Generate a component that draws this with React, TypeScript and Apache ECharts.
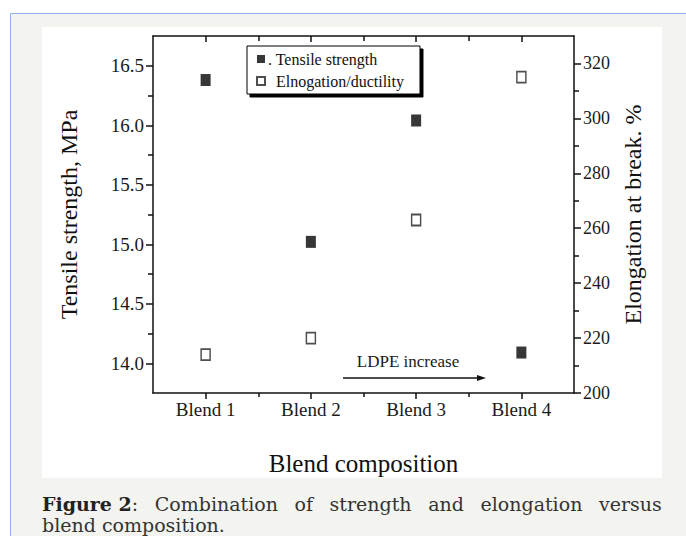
import React, { useEffect, useRef } from "react";
import * as echarts from "echarts";

const categories = ["Blend 1", "Blend 2", "Blend 3", "Blend 4"];
const tensileStrength = [16.38, 15.02, 16.04, 14.09];
const elongation = [214, 220, 263, 315];
const seriesNames = [". Tensile strength", "  Elnogation/ductility"];
const leftMajorTicks = [14.0, 14.5, 15.0, 15.5, 16.0, 16.5];
const leftMinorTicks = [14.25, 14.75, 15.25, 15.75, 16.25];
const rightMajorTicks = [200, 220, 240, 260, 280, 300, 320];
const rightMinorTicks = [210, 230, 250, 270, 290, 310];
const xMajorTicks = [1, 2, 3, 4];
const xMinorTicks = [1.5, 2.5, 3.5];
const captionBold = "Figure 2";
const captionLine1Words = [":", "Combination", "of", "strength", "and", "elongation", "versus"];
const captionLine2 = "blend composition.";
const annotation = "LDPE increase";

const SERIF = "'Liberation Serif', 'Times New Roman', serif";
const CAPTION_FONT = "'DejaVu Serif', serif";

export default function App() {
  const ref = useRef<HTMLDivElement>(null);
  useEffect(() => {
    document.body.style.margin = "0";
    const chart = echarts.init(ref.current!, null, { renderer: "svg" });
    const axisLineStyle = { color: "#111", width: 1.5 };
    const xRange = { min: 0.5, max: 4.5 };
    const leftRange = { min: 13.75, max: 16.75 };
    const rightRange = { min: 200, max: 330 };
    const minorAxis = (range: any, position: string, values: number[], inside: boolean, len: number) => ({
      type: "value",
      ...range,
      position,
      axisLine: { show: false },
      axisTick: { show: true, inside, length: len, customValues: values, lineStyle: axisLineStyle },
      axisLabel: { show: false },
      splitLine: { show: false },
    });
    const line1 =
      "{b|" + captionBold + "}" + captionLine1Words[0] + captionLine1Words.slice(1).map((w) => "{s| }" + w).join("");
    const option: any = {
      animation: false,
      backgroundColor: "#ffffff",
      grid: { left: 153, top: 36, right: 112, bottom: 143 },
      legend: {
        orient: "vertical",
        left: 247,
        top: 46,
        itemWidth: 8,
        itemHeight: 8,
        itemGap: 6,
        padding: [5, 16, 5, 9],
        backgroundColor: "#fff",
        borderColor: "#000",
        borderWidth: 1,
        shadowColor: "#000",
        shadowBlur: 0,
        shadowOffsetX: 3,
        shadowOffsetY: 3,
        icon: "rect",
        textStyle: { fontFamily: SERIF, fontSize: 16, color: "#111", padding: [0, 0, 0, -2] },
        data: seriesNames,
      },
      xAxis: [
        {
          type: "value",
          ...xRange,
          position: "bottom",
          name: "Blend composition",
          nameLocation: "middle",
          nameGap: 58,
          nameTextStyle: { fontFamily: SERIF, fontSize: 25, color: "#111" },
          axisLine: { show: true, lineStyle: axisLineStyle },
          axisTick: { show: true, inside: false, length: 6, customValues: xMajorTicks, lineStyle: axisLineStyle },
          axisLabel: {
            fontFamily: SERIF,
            fontSize: 19,
            color: "#1a1a1a",
            margin: 7,
            customValues: xMajorTicks,
            formatter: (v: number) => categories[Math.round(v) - 1] ?? "",
          },
          splitLine: { show: false },
        },
        {
          type: "value",
          ...xRange,
          position: "top",
          axisLine: { show: true, lineStyle: axisLineStyle },
          axisTick: { show: true, inside: true, length: 6, customValues: xMajorTicks, lineStyle: axisLineStyle },
          axisLabel: { show: false },
          splitLine: { show: false },
        },
        minorAxis(xRange, "bottom", xMinorTicks, false, 4),
        minorAxis(xRange, "top", xMinorTicks, true, 5),
      ],
      yAxis: [
        {
          type: "value",
          ...leftRange,
          position: "left",
          name: "Tensile strength, MPa",
          nameLocation: "middle",
          nameRotate: 90,
          nameGap: 72,
          nameTextStyle: { fontFamily: SERIF, fontSize: 24, color: "#111" },
          axisLine: { show: true, lineStyle: axisLineStyle },
          axisTick: { show: true, inside: false, length: 7, customValues: leftMajorTicks, lineStyle: axisLineStyle },
          axisLabel: {
            fontFamily: SERIF,
            fontSize: 19,
            color: "#1a1a1a",
            margin: 9,
            customValues: leftMajorTicks,
            formatter: (v: number) => v.toFixed(1),
          },
          splitLine: { show: false },
        },
        {
          type: "value",
          ...rightRange,
          position: "right",
          name: "Elongation at break. %",
          nameLocation: "middle",
          nameRotate: 90,
          nameGap: 44,
          nameTextStyle: { fontFamily: SERIF, fontSize: 24, color: "#111" },
          axisLine: { show: true, lineStyle: axisLineStyle },
          axisTick: { show: true, inside: false, length: 7, customValues: rightMajorTicks, lineStyle: axisLineStyle },
          axisLabel: {
            fontFamily: SERIF,
            fontSize: 18,
            color: "#1a1a1a",
            margin: 9,
            customValues: rightMajorTicks,
            formatter: (v: number) => String(v),
          },
          splitLine: { show: false },
        },
        minorAxis(leftRange, "left", leftMinorTicks, false, 5),
        minorAxis(rightRange, "right", rightMinorTicks, false, 5),
      ],
      series: [
        {
          name: seriesNames[0],
          type: "scatter",
          xAxisIndex: 0,
          yAxisIndex: 0,
          symbol: "rect",
          symbolSize: [10, 12],
          itemStyle: { color: "#050505" },
          data: tensileStrength.map((v, i) => [i + 1, v]),
        },
        {
          name: seriesNames[1],
          type: "scatter",
          xAxisIndex: 0,
          yAxisIndex: 1,
          symbol: "rect",
          symbolSize: [9, 11],
          itemStyle: { color: "#ffffff", borderColor: "#222", borderWidth: 1.6 },
          data: elongation.map((v, i) => [i + 1, v]),
        },
      ],
      graphic: [
        {
          type: "rect",
          z: -100,
          silent: true,
          shape: { x: 10.5, y: 13.5, width: 720, height: 600 },
          style: { fill: "#f3f3ef", stroke: "#8fb2e6", lineWidth: 1 },
        },
        {
          type: "rect",
          z: -90,
          silent: true,
          shape: { x: 42, y: 27, width: 620, height: 451 },
          style: { fill: "#ffffff" },
        },
        {
          type: "text",
          z: 10,
          x: 408,
          y: 361,
          style: {
            text: annotation,
            fontFamily: SERIF,
            fontSize: 17,
            fill: "#1a1a1a",
            align: "center",
            verticalAlign: "middle",
          },
        },
        {
          type: "line",
          z: 10,
          shape: { x1: 343, y1: 378, x2: 482, y2: 378 },
          style: { stroke: "#111", lineWidth: 1.5 },
        },
        {
          type: "polygon",
          z: 10,
          shape: { points: [[477, 375], [486, 378], [477, 381]] },
          style: { fill: "#111" },
        },
        {
          type: "text",
          z: 10,
          x: 42,
          y: 504,
          style: {
            text: line1,
            fontFamily: CAPTION_FONT,
            fontSize: 19,
            fill: "#333",
            verticalAlign: "middle",
            rich: {
              b: { fontFamily: CAPTION_FONT, fontSize: 19, fontWeight: "bold", fill: "#222" },
              s: { fontFamily: CAPTION_FONT, fontSize: 19, width: 16.6 },
            },
          },
        },
        {
          type: "text",
          z: 10,
          x: 42,
          y: 525,
          style: {
            text: captionLine2,
            fontFamily: CAPTION_FONT,
            fontSize: 19,
            fill: "#333",
            verticalAlign: "middle",
          },
        },
      ],
    };
    chart.setOption(option);
    return () => chart.dispose();
  }, []);
  return <div ref={ref} style={{ width: 686, height: 536 }} />;
}
